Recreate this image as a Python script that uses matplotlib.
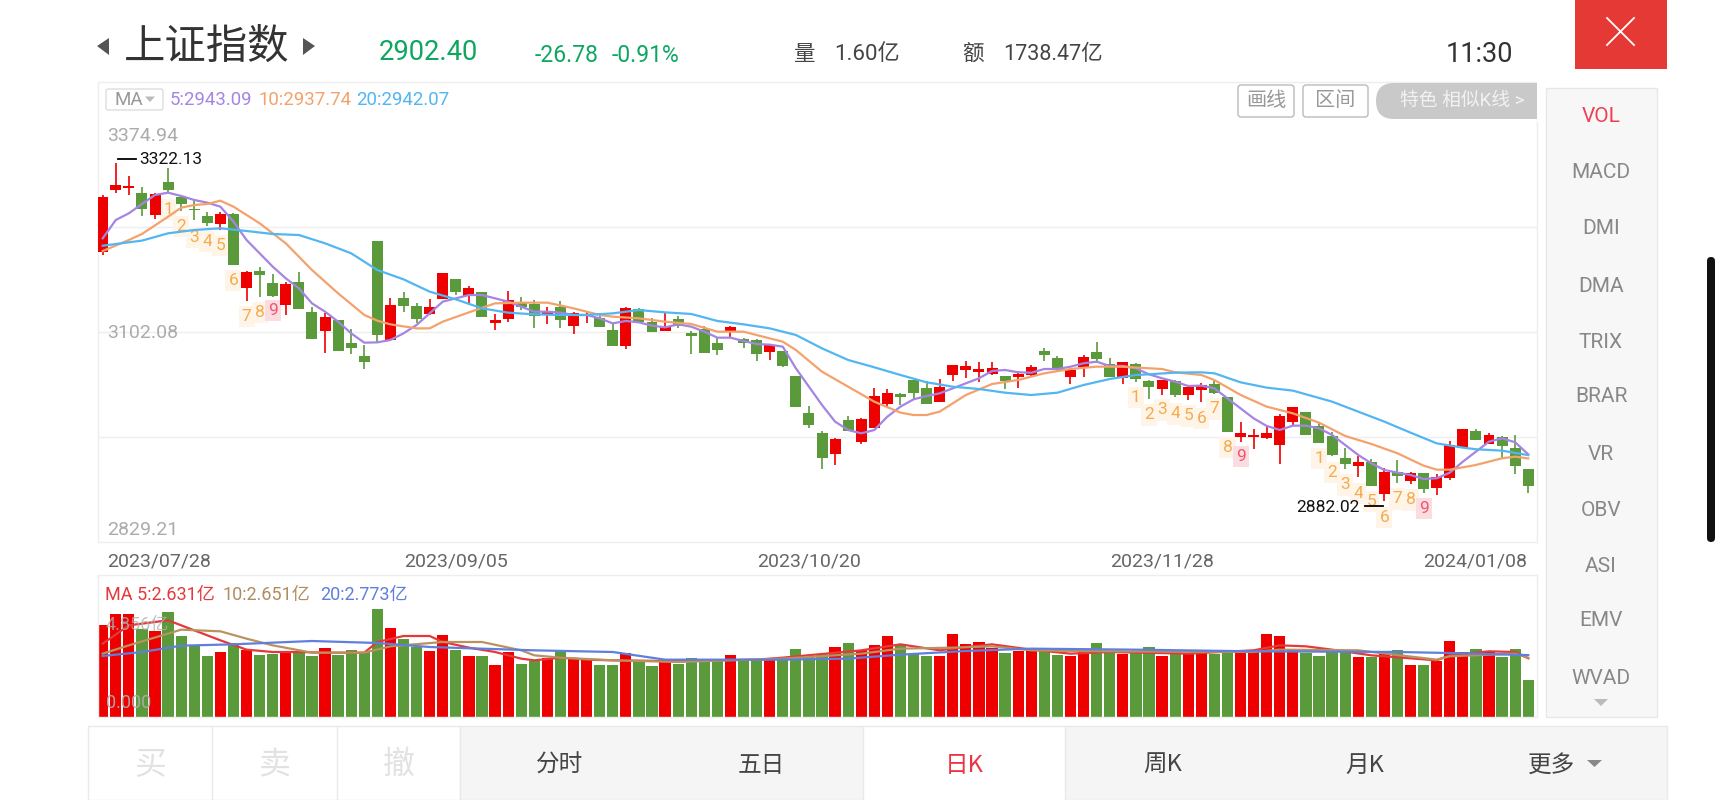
import matplotlib
matplotlib.use('Agg')
import matplotlib.pyplot as plt
from matplotlib.patches import Rectangle, FancyBboxPatch, Polygon
from matplotlib.transforms import ScaledTranslation

FONT = ['Roboto', 'Noto Sans CJK SC', 'DejaVu Sans']
plt.rcParams['font.family'] = FONT

# ---------- data ----------
date_ticks = [0, 27, 54, 81, 109]
date_labels = ['2023/07/28', '2023/09/05', '2023/10/20', '2023/11/28', '2024/01/08']
price_labels = [3374.94, 3102.08, 2829.21]
price_grid = [3238.51, 3102.08, 2965.65]

opens = [3206.5,3287.0,3288.7,3283.1,3254.1,3297.4,3277.9,3262.3,3252.4,3242.4,
 3255.8,3159.2,3181.8,3166.2,3137.2,3166.6,3127.6,3103.4,3117.7,3087.4,
 3070.5,3220.8,3091.7,3145.8,3135.4,3125.5,3145.0,3170.9,3148.8,3153.6,
 3114.2,3119.0,3140.2,3138.0,3124.2,3135.0,3109.9,3123.3,3119.8,3104.7,
 3083.9,3132.4,3115.5,3103.4,3118.9,3101.2,3105.5,3087.3,3102.5,3093.0,
 3092.1,3076.1,3077.4,3044.9,2996.4,2971.3,2943.6,2987.7,2959.1,2977.3,
 3008.5,3021.1,3039.3,3029.7,3011.5,3046.6,3052.3,3050.1,3047.1,3044.5,
 3043.2,3046.2,3077.8,3067.9,3043.2,3056.6,3075.6,3060.9,3041.9,3060.9,
 3038.8,3028.0,3038.9,3020.2,3027.2,3034.5,3018.1,2965.3,2965.3,2964.8,
 2955.3,2985.6,2998.2,2980.0,2967.4,2937.9,2927.6,2932.8,2891.6,2920.2,
 2908.9,2918.5,2899.4,2912.4,2950.9,2973.5,2956.2,2966.1,2950.9,2924.5]
closes = [3277.9,3292.6,3292.2,3261.5,3281.4,3286.6,3268.4,3260.6,3243.3,3255.8,
 3188.7,3180.0,3175.7,3149.3,3164.9,3131.5,3092.5,3121.6,3077.8,3081.3,
 3063.1,3097.7,3137.2,3136.3,3119.4,3134.6,3178.7,3153.6,3159.2,3121.6,
 3117.7,3143.6,3134.1,3122.9,3128.1,3117.7,3127.2,3125.9,3108.1,3083.9,
 3133.7,3114.6,3101.6,3109.0,3109.9,3096.4,3074.3,3078.2,3109.0,3087.3,
 3073.0,3084.7,3057.9,3004.6,2981.7,2938.4,2963.5,2973.0,2989.5,3018.9,
 3022.4,3018.0,3022.4,3008.5,3031.0,3059.2,3058.3,3053.6,3054.9,3038.0,
 3047.9,3057.0,3072.2,3052.7,3052.3,3069.6,3067.0,3043.2,3063.1,3041.0,
 3031.0,3039.3,3020.7,3030.6,3032.8,3022.4,2971.7,2970.4,2968.3,2970.9,
 2993.0,3004.2,2968.3,2958.3,2941.9,2930.2,2933.6,2901.6,2919.8,2914.6,
 2919.3,2898.1,2914.1,2955.3,2976.5,2961.8,2968.7,2953.9,2928.4,2902.0]
highs = [3280.1,3322.13,3305.2,3290.9,3282.2,3315.6,3280.1,3273.6,3257.6,3257.6,
 3256.3,3180.9,3186.5,3177.0,3167.5,3179.6,3135.0,3126.3,3117.7,3106.0,
 3085.2,3220.8,3145.8,3154.0,3140.2,3144.5,3179.2,3171.4,3162.3,3153.6,
 3125.0,3155.8,3148.0,3143.6,3135.0,3142.4,3128.5,3129.8,3126.3,3113.3,
 3134.1,3132.8,3119.8,3126.3,3122.4,3103.4,3109.9,3096.0,3110.3,3094.3,
 3092.5,3086.0,3077.8,3044.9,3006.4,2973.4,2964.8,2993.4,2989.9,3028.9,
 3028.0,3023.2,3039.7,3038.0,3041.0,3059.6,3064.8,3063.1,3063.5,3044.9,
 3051.8,3059.2,3080.8,3070.9,3052.7,3072.6,3089.5,3067.9,3063.5,3062.2,
 3039.3,3039.7,3039.3,3033.2,3036.3,3038.4,3018.1,2985.2,2975.6,2980.0,
 2995.6,3004.7,2998.6,2985.6,2972.6,2950.9,2941.0,2936.7,2925.0,2935.8,
 2920.2,2918.9,2917.2,2960.9,2976.5,2976.1,2971.3,2966.5,2968.3,2924.5]
lows = [3202.1,3282.2,3280.5,3253.2,3248.5,3282.2,3259.7,3247.6,3240.2,3235.0,
 3188.7,3141.9,3148.0,3148.0,3123.7,3131.5,3092.5,3075.2,3077.8,3073.5,
 3053.6,3089.5,3090.8,3127.6,3114.2,3124.2,3145.0,3150.1,3137.2,3121.6,
 3104.7,3114.6,3130.7,3107.3,3112.0,3107.7,3099.0,3114.2,3108.1,3083.9,
 3079.5,3114.6,3101.6,3103.4,3106.8,3073.0,3074.3,3072.2,3093.8,3080.8,
 3063.9,3065.7,3057.0,3004.6,2977.8,2923.6,2929.3,2973.0,2956.5,2977.3,
 3005.1,3007.2,3014.6,3008.5,3011.5,3038.0,3042.7,3037.5,3046.2,3027.6,
 3028.9,3044.9,3064.8,3050.5,3034.1,3044.0,3063.5,3043.2,3034.9,3037.5,
 3015.4,3020.7,3018.1,3013.8,3010.7,3021.6,2971.7,2959.6,2949.7,2962.6,
 2930.6,2980.4,2968.3,2958.3,2941.0,2924.5,2914.1,2901.6,2882.02,2906.4,
 2904.2,2893.4,2890.3,2909.8,2950.9,2961.8,2956.2,2938.0,2917.2,2892.5]

ma5 = [3223.8,3247.6,3256.3,3268.4,3280.1,3283.1,3278.8,3273.6,3270.1,3264.9,
 3245.4,3221.6,3204.3,3187.0,3171.8,3158.8,3139.3,3128.5,3115.5,3100.3,
 3088.2,3088.6,3091.7,3100.3,3111.2,3126.3,3141.5,3145.8,3150.1,3150.1,
 3145.8,3141.5,3135.0,3128.5,3128.5,3127.2,3124.2,3124.2,3119.8,3113.3,
 3116.4,3114.6,3110.3,3108.1,3112.0,3109.0,3102.5,3094.7,3094.7,3090.4,
 3086.5,3085.6,3083.0,3054.9,3031.0,3007.2,2985.6,2974.7,2970.4,2974.7,
 2992.1,3005.1,3014.6,3018.9,3022.4,3028.9,3035.4,3041.9,3051.4,3052.7,
 3049.7,3049.2,3054.0,3054.0,3057.0,3061.4,3063.5,3057.9,3057.9,3054.9,
 3047.1,3041.9,3037.6,3031.9,3032.4,3028.9,3015.9,3002.9,2989.9,2980.0,
 2974.8,2980.4,2980.4,2976.9,2968.3,2955.3,2942.3,2931.5,2922.8,2919.3,
 2916.3,2911.1,2912.0,2919.3,2933.6,2946.6,2959.6,2963.9,2958.8,2943.09]

ma10_idx = [0,2,3,5,6,7,8,9,10,12,14,16,18,20,21,22,24,25,26,28,30,32,34,36,38,39,41,43,45,47,49,51,52,53,55,57,59,61,62,63,64,66,68,70,72,74,76,78,80,81,82,84,85,87,89,91,93,95,97,99,101,102,103,105,107,108,109]
ma10 = [3207.3,3221.6,3229.4,3251.9,3263.6,3267.1,3268.4,3272.7,3264.9,3243.3,3217.3,3182.6,3152.3,3124.2,3116.8,3112.0,3106.8,3106.8,3115.5,3127.6,3139.3,3140.2,3140.2,3132.8,3124.2,3122.0,3119.8,3115.5,3112.5,3102.5,3102.5,3093.8,3089.5,3078.7,3050.5,3031.0,3011.5,2997.3,2994.2,2994.2,2998.6,3020.2,3034.5,3039.7,3048.4,3054.0,3057.0,3057.0,3054.9,3054.0,3049.7,3046.2,3039.7,3020.3,3005.1,2996.4,2984.3,2967.0,2956.6,2944.5,2928.4,2923.2,2923.2,2929.3,2938.0,2940.1,2937.74]

ma20_idx = [0,3,5,7,9,11,13,15,17,19,21,23,25,27,29,31,33,35,37,39,41,43,45,47,49,51,53,55,57,59,61,63,65,67,69,71,73,75,77,79,80,82,84,85,87,89,91,94,96,98,100,102,104,105,107,109]
ma20 = [3214.2,3220.8,3230.3,3234.6,3236.8,3233.3,3229.4,3228.1,3217.3,3204.3,3182.6,3170.5,3154.5,3144.5,3132.8,3127.2,3125.0,3124.2,3124.2,3126.3,3130.6,3127.6,3125.5,3116.4,3112.0,3106.8,3098.2,3080.8,3065.7,3056.2,3046.2,3036.7,3031.0,3028.0,3023.2,3020.2,3023.2,3033.2,3041.0,3046.2,3047.1,3049.3,3049.7,3048.4,3036.7,3029.8,3025.9,3011.6,2998.6,2985.6,2971.3,2957.4,2951.8,2949.7,2947.9,2942.07]

volumes = [4.109,4.602,4.602,3.959,3.855,4.706,3.630,3.212,2.734,2.913,
 3.317,3.018,2.764,2.839,2.958,2.913,2.719,3.108,2.764,3.018,
 2.913,4.856,4.004,3.481,3.137,2.958,3.690,2.988,2.719,2.719,
 2.316,2.928,2.390,2.510,2.659,2.958,2.615,2.570,2.316,2.316,
 2.883,2.540,2.271,2.540,2.390,2.659,2.510,2.615,2.764,2.570,
 2.615,2.615,2.689,3.063,2.689,2.809,3.137,3.332,3.018,3.242,
 3.615,3.212,2.839,2.719,2.719,3.735,3.287,3.376,3.108,2.883,
 2.943,2.988,3.018,2.764,2.719,2.913,3.332,2.943,2.809,2.943,
 3.122,2.719,2.943,2.868,2.913,2.809,2.913,2.988,2.988,3.705,
 3.615,3.018,2.868,2.749,3.018,2.943,2.689,2.689,2.839,2.988,
 2.346,2.316,2.510,3.406,2.913,3.063,2.913,2.689,3.033,1.643]

vma5_idx = [0,2,5,7,9,11,13,15,17,20,21,23,25,26,28,30,32,33,35,37,39,43,50,52,58,61,64,66,68,71,74,77,83,88,90,92,94,97,102,103,106,108,109]
vma5 = [3.287,4.109,4.333,3.884,3.436,3.018,2.913,2.913,2.883,2.883,3.362,3.630,3.630,3.362,3.108,2.913,2.615,2.540,2.659,2.570,2.540,2.510,2.570,2.659,2.988,3.257,2.988,3.137,3.257,3.018,2.839,2.913,2.839,2.988,3.212,3.167,3.018,2.764,2.540,2.764,2.943,2.913,2.631]
vma10_idx = [0,2,6,9,11,13,16,20,22,26,29,32,33,35,39,44,52,58,61,65,68,71,77,88,90,96,102,103,108,109]
vma10 = [2.839,3.212,3.914,3.840,3.511,3.212,2.883,2.883,3.167,3.362,3.362,2.988,2.764,2.659,2.540,2.465,2.615,2.839,3.063,3.108,3.167,2.988,2.943,2.913,3.018,2.988,2.570,2.719,2.839,2.651]
vma20_idx = [0,3,6,10,16,21,25,33,39,43,52,57,61,66,71,79,88,99,103,109]
vma20 = [2.734,2.913,3.197,3.257,3.406,3.317,3.137,2.988,2.913,2.570,2.570,2.615,2.794,2.958,3.063,3.018,2.943,2.913,2.868,2.773]

td_idx = [5,6,7,8,9,10,11,12,13, 79,80,81,82,83,84,85,86,87, 93,94,95,96,97,98,99,100,101]
td_num = ['1','2','3','4','5','6','7','8','9']*3
td_price = [3261.5,3238.9,3225.1,3219.4,3214.2,3168.8,3122.0,3127.6,3129.8,
            3017.2,2994.3,3000.8,2995.6,2993.0,2989.9,3002.1,2951.8,2940.1,
            2937.9,2919.3,2903.3,2892.5,2881.7,2861.3,2885.1,2883.8,2872.6]

side_items = ['VOL','MACD','DMI','DMA','TRIX','BRAR','VR','OBV','ASI','EMV','WVAD']

RED = '#EE0000'
GREEN = '#5A9A3A'
W, H = 1731, 800
fig = plt.figure(figsize=(W/100, H/100), dpi=100, facecolor='white')

def rect(l, t, r, b):
    return [l/W, 1-b/H, (r-l)/W, (b-t)/H]

idx = list(range(len(closes)))
colors = [RED if c >= o else GREEN for o, c in zip(opens, closes)]

# ---------- price panel ----------
ax = fig.add_axes(rect(98, 82, 1537, 542))
ax.set_xlim(-0.36, 109.67)
ax.set_ylim(2829.21, 3426.9)
for s in ax.spines.values():
    s.set_color('#EEEEEE'); s.set_linewidth(1)
ax.set_yticks(price_grid)
ax.set_yticklabels([])
ax.grid(axis='y', color='#EEEEEE', lw=1)
ax.set_axisbelow(True)
ax.tick_params(axis='y', length=0)
ax.set_xticks(date_ticks)
ax.set_xticklabels(date_labels, fontsize=14, color='#666666')
ax.tick_params(axis='x', length=0, pad=7.5)
tl = ax.get_xticklabels()
tl[0].set_ha('left'); tl[-1].set_ha('right')
tl[0].set_transform(tl[0].get_transform() + ScaledTranslation(4.5/100, 0, fig.dpi_scale_trans))
tl[-1].set_transform(tl[-1].get_transform() + ScaledTranslation(-1.5/100, 0, fig.dpi_scale_trans))

ax.vlines(idx, lows, highs, colors=colors, lw=1.2, zorder=3)
ax.bar(idx, [abs(c-o) for o, c in zip(opens, closes)],
       bottom=[min(o, c) for o, c in zip(opens, closes)],
       width=0.84, color=colors, lw=0, zorder=3)
ax.plot(idx, ma5, color='#A585E3', lw=1.6, zorder=4, solid_joinstyle='round')
ax.plot(ma10_idx, ma10, color='#F4A26C', lw=1.6, zorder=4, solid_joinstyle='round')
ax.plot(ma20_idx, ma20, color='#52B6F2', lw=1.6, zorder=4, solid_joinstyle='round')

for i, n, p in zip(td_idx, td_num, td_price):
    nine = n == '9'
    ax.text(i, p, n, ha='center', va='center', fontsize=12.5, zorder=2,
            color='#F0566E' if nine else '#F5AC4E',
            bbox=dict(boxstyle='square,pad=0.18', fc='#FBDDE1' if nine else '#FEF4E8', ec='none'))

# ---------- volume panel ----------
vax = fig.add_axes(rect(98, 575, 1537, 717))
vax.set_xlim(-0.36, 109.67)
vax.set_ylim(0, 6.364)
for n, s in vax.spines.items():
    s.set_color('#EEEEEE'); s.set_linewidth(1)
vax.set_xticks([]); vax.set_yticks([])
vax.bar(idx, volumes, width=0.86, color=colors, lw=0, zorder=2)
vax.plot(vma5_idx, vma5, color='#E5383B', lw=1.6, zorder=3)
vax.plot(vma10_idx, vma10, color='#B9925F', lw=1.6, zorder=3)
vax.plot(vma20_idx, vma20, color='#5F7FDC', lw=1.6, zorder=4)

# ---------- page furniture, in pixels ----------
ui = fig.add_axes([0, 0, 1, 1], zorder=5)
ui.set_xlim(0, W); ui.set_ylim(H, 0); ui.axis('off'); ui.patch.set_alpha(0)

def T(x, y, s, size, color='#333333', ha='left', **kw):
    ui.text(x, y, s, fontsize=size, color=color, ha=ha, va='center', **kw)

def box(l, t, r, b, fc, ec='none', lw=1):
    ui.add_patch(Rectangle((l, t), r-l, b-t, fc=fc, ec=ec, lw=lw))

# header
ui.add_patch(Polygon([[109, 38], [97, 46], [109, 55]], fc='#555555', ec='none'))
ui.add_patch(Polygon([[303, 38], [315, 46], [303, 55]], fc='#555555', ec='none'))
T(124, 47, '上证指数', 29.8, '#333333', family='Noto Sans CJK SC')
T(379, 52, '2902.40', 19.7, '#0DA760')
T(535, 55, '-26.78', 16.5, '#0DA760')
T(612, 55, '-0.91%', 16.5, '#0DA760')
T(794, 54, '量', 15.5, '#444444')
T(834, 54, '1.60亿', 16, '#444444')
T(962, 54, '额', 15.5, '#444444')
T(1003, 54, '1738.47亿', 15.5, '#444444')
T(1446, 55, '11:30', 19.5, '#333333')
box(1575, 0, 1667, 69, '#E53935')
ui.plot([1607, 1634], [18, 45], color='white', lw=1.3)
ui.plot([1607, 1634], [45, 18], color='white', lw=1.3)

# price panel labels
ui.add_patch(FancyBboxPatch((106, 89), 57, 21, boxstyle='round,pad=0,rounding_size=2', fc='white', ec='#DDDDDD', lw=1))
T(115, 100, 'MA', 13.5, '#999999')
ui.add_patch(Polygon([[145, 96.5], [155, 96.5], [150, 102]], fc='#BBBBBB', ec='none'))
T(170, 100, '5:2943.09', 13.4, '#A585E3')
T(259, 100, '10:2937.74', 13.4, '#F4A26C')
T(356, 100, '20:2942.07', 13.4, '#52B6F2')
T(107, 136, '3374.94', 14, '#ABABAB')
T(107, 333, '3102.08', 14, '#ABABAB')
T(107, 530, '2829.21', 14, '#ABABAB')
ui.plot([118, 136], [159, 159], color='black', lw=1.3)
T(139, 160, '3322.13', 12.5, '#111111')
ui.plot([1365, 1383], [506, 506], color='black', lw=1.3)
T(1296, 507, '2882.02', 12.5, '#111111')

# chart buttons
for l, r, s in [(1238, 1294, '画线'), (1303, 1368, '区间')]:
    ui.add_patch(FancyBboxPatch((l, 85), r-l, 32, boxstyle='round,pad=0,rounding_size=3', fc='white', ec='#BBBBBB', lw=1))
    T((l+r)/2, 101, s, 14.5, '#999999', ha='center', family='Noto Sans CJK SC')
ui.add_patch(FancyBboxPatch((1376, 83), 180, 36, boxstyle='round,pad=0,rounding_size=18', fc='#C9C9C9', ec='none'))
box(1537, 80, 1560, 122, 'white')
T(1400, 101, '特色 相似K线 >', 13.5, '#F2F2F2')

# volume labels
T(105, 595, 'MA 5:2.631亿', 13, '#E5383B')
T(223, 595, '10:2.651亿', 13, '#B08D5F')
T(320, 595, '20:2.773亿', 13, '#5F7FDC')
T(106, 625, '4.856亿', 13, '#B0B0B0', alpha=0.8)
T(106, 703, '0.000', 13, '#B0B0B0', alpha=0.9)

# side panel
box(1546, 88, 1657, 717, '#F7F7F7', '#E8E8E8')
for s, y in zip(side_items, [117, 173, 229, 286, 342, 397, 454, 510, 566, 621, 678]):
    T(1601, y, s, 15, '#F04050' if s == 'VOL' else '#888888', ha='center')
ui.add_patch(Polygon([[1594, 699], [1608, 699], [1601, 706]], fc='#BBBBBB', ec='none'))

# scrollbar
ui.add_patch(FancyBboxPatch((1707, 257), 8, 285, boxstyle='round,pad=0,rounding_size=4', fc='#111111', ec='none'))

# bottom tabs
box(88, 726, 460, 800, 'white', '#EAEAEA')
box(460, 726, 863, 800, '#F5F5F5', '#EAEAEA')
box(1065, 726, 1667, 800, '#F5F5F5', '#EAEAEA')
ui.plot([212, 212], [726, 800], color='#EAEAEA', lw=1)
ui.plot([337, 337], [726, 800], color='#EAEAEA', lw=1)
ui.plot([863, 1065], [726, 726], color='#EAEAEA', lw=1)
for x, s in [(150, '买'), (275, '卖'), (399, '撤')]:
    T(x, 765, s, 23, '#E2E2E2', ha='center', family='Noto Sans CJK SC')
for x, s, c in [(560, '分时', '#444444'), (761, '五日', '#444444'), (964, '日K', '#EE3344'),
                (1163, '周K', '#444444'), (1365, '月K', '#444444'), (1552, '更多', '#444444')]:
    T(x, 765, s, 17, c, ha='center', family='Noto Sans CJK SC')
ui.add_patch(Polygon([[1587, 760], [1602, 760], [1594.5, 767]], fc='#888888', ec='none'))

fig.savefig('out.png', dpi=100)
